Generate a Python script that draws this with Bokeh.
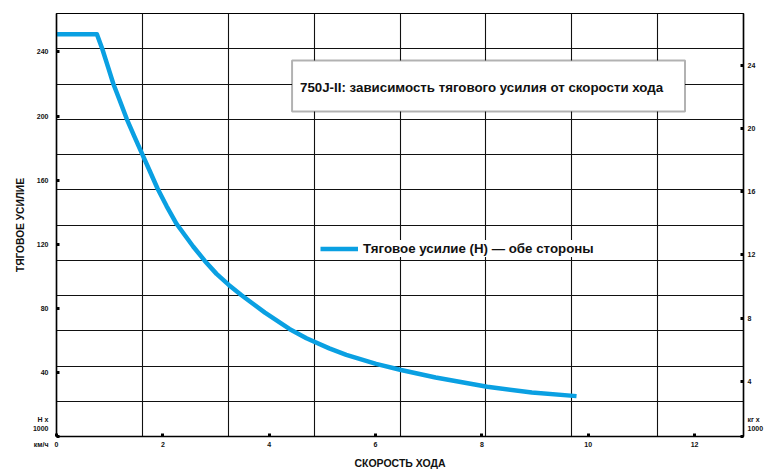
from bokeh.plotting import figure
from bokeh.models import Range1d, LinearAxis, FixedTicker, Label, BoxAnnotation, Legend, LegendItem
from bokeh.embed import file_html
from bokeh.resources import INLINE

# ---- data ----
speed_kmh = [0, 0.76, 0.86, 0.97, 1.07, 1.19, 1.32, 1.47, 1.61, 1.75, 1.90, 2.07, 2.26,
             2.57, 2.79, 3.01, 3.24, 3.48, 3.92, 4.38, 4.70, 5.13, 5.45, 6.01, 6.48, 7.13,
             8.10, 8.94, 9.78]
force_kn = [251, 251, 242, 230.5, 220, 209.7, 198.3, 186.8, 176.4, 166, 154.8, 143.8, 132.6,
            118.6, 109.6, 101.5, 94.6, 88.2, 77.3, 67.1, 61.3, 55.0, 51.0, 45.3, 41.5, 36.8,
            31.0, 27.5, 25.2]
x_ticks = [0, 2, 4, 6, 8, 10, 12]
y_ticks_kn = [0, 40, 80, 120, 160, 200, 240]
y_ticks_kgf = [0.5, 4, 8, 12, 16, 20, 24]

title_text = "750J-II: зависимость тягового усилия от скорости хода"
legend_text = "Тяговое усилие (Н) — обе стороны"
x_title = "СКОРОСТЬ ХОДА"
y_title = "ТЯГОВОЕ УСИЛИЕ"
unit_left = "Н х\n1000\n\nкм/ч\n"
unit_right = "кг х\n1000\n\n\n"

FONT = "Liberation Sans"
X_MAX = 12.92
Y_MAX = 264
KGF_RANGE = (0.5, 27.3)

p = figure(width=766, height=471, output_backend="svg", toolbar_location=None,
           x_range=Range1d(0, X_MAX), y_range=Range1d(0, Y_MAX),
           min_border_left=56, min_border_right=20, min_border_top=13, min_border_bottom=35,
           background_fill_color="white", border_fill_color="white")
p.outline_line_color = "black"
p.outline_line_width = 1.2

p.extra_y_ranges = {"kgf": Range1d(*KGF_RANGE)}
right_axis = LinearAxis(y_range_name="kgf", ticker=FixedTicker(ticks=y_ticks_kgf))
p.add_layout(right_axis, "right")

p.xaxis.ticker = FixedTicker(ticks=x_ticks)
left_axis = p.yaxis[0]
left_axis.ticker = FixedTicker(ticks=y_ticks_kn)
left_axis.major_label_overrides = {0: unit_left}
right_axis.major_label_overrides = {0.5: unit_right}

for ax in [p.xaxis[0], left_axis, right_axis]:
    ax.axis_line_color = "black"
    ax.axis_line_width = 1.5
    ax.major_tick_in = 3
    ax.major_tick_out = 0
    ax.major_tick_line_width = 3
    ax.major_tick_line_color = "black"
    ax.minor_tick_line_color = None
    ax.major_label_text_font = FONT
    ax.major_label_text_font_style = "bold"
    ax.major_label_text_font_size = "7px"
    ax.major_label_text_line_height = 1.2
    ax.major_label_text_color = "#111111"
    ax.axis_label_text_font = FONT
    ax.axis_label_text_font_style = "bold"
    ax.axis_label_text_color = "#111111"
p.xaxis.major_label_standoff = 5
left_axis.major_label_standoff = 8
right_axis.major_label_standoff = 4

p.xaxis.axis_label = x_title
p.xaxis.axis_label_text_font_size = "10.5px"
p.xaxis.axis_label_standoff = 7
left_axis.axis_label = y_title
left_axis.axis_label_text_font_size = "10.2px"
left_axis.axis_label_standoff = 4

p.xgrid.ticker = FixedTicker(ticks=[X_MAX * k / 8 for k in range(1, 8)])
p.ygrid.ticker = FixedTicker(ticks=[Y_MAX * k / 12 for k in range(1, 12)])
p.grid.grid_line_color = "#111111"
p.grid.grid_line_width = 1.1
p.grid.grid_line_alpha = 1.0

r = p.line(speed_kmh, force_kn, line_width=4.5, line_color="#0aa0e2", line_join="round")

legend = Legend(items=[LegendItem(label=legend_text, renderers=[r])], location=(264, 179),
                label_text_font=FONT, label_text_font_style="bold", label_text_font_size="13.3px",
                label_text_color="#111111", glyph_width=38, glyph_height=17, label_height=17,
                label_standoff=5, padding=7, margin=0, spacing=0,
                border_line_color=None, background_fill_color="white", background_fill_alpha=1.0)
p.add_layout(legend)

box = BoxAnnotation(left=4.43, right=11.82, bottom=202.8, top=234.7,
                    fill_color="white", fill_alpha=1.0, line_color="black", line_width=2)
p.add_layout(box)
p.add_layout(Label(x=4.58, y=218.0, text=title_text, text_font=FONT, text_font_style="bold",
                   text_font_size="13.3px", text_baseline="middle", text_align="left",
                   text_color="#111111"))

open("out.html", "w").write(file_html(p, INLINE))
